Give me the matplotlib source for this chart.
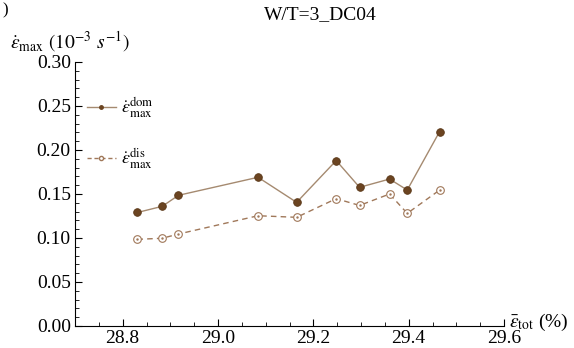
import matplotlib
matplotlib.use("Agg")
import matplotlib.pyplot as plt
from matplotlib.lines import Line2D
from matplotlib.ticker import MultipleLocator

plt.rcParams['font.family'] = ['Liberation Serif', 'DejaVu Serif']
plt.rcParams['mathtext.fontset'] = 'stix'

eps_tot = [28.831, 28.883, 28.917, 29.084, 29.165, 29.248, 29.297, 29.360, 29.397, 29.465]
rate_dom = [0.129, 0.136, 0.1485, 0.169, 0.1405, 0.188, 0.1576, 0.167, 0.1545, 0.221]
rate_dis = [0.0985, 0.0997, 0.1045, 0.1253, 0.1235, 0.1447, 0.137, 0.150, 0.128, 0.1545]
title = "W/T=3_DC04"
x_ticks = [28.8, 29.0, 29.2, 29.4, 29.6]
y_ticks = [0.00, 0.05, 0.10, 0.15, 0.20, 0.25, 0.30]

dom_face = '#6b4421'
dom_line = '#a58a70'
dis_col = '#a0785a'

fig = plt.figure(figsize=(5.74, 3.48), dpi=100)
ax = fig.add_axes([75/574, 1-326/348, (504-75)/574, (326-62)/348])

ax.plot(eps_tot, rate_dom, '-', color=dom_line, lw=1.0, zorder=2)
ax.plot(eps_tot, rate_dom, 'o', ms=5.5, mfc=dom_face, mec='#5a3818', mew=0.6, zorder=3)
ax.plot(eps_tot, rate_dis, '--', color=dis_col, lw=1.0, dashes=(4, 3), zorder=2)
ax.plot(eps_tot, rate_dis, 'o', ms=5.5, mfc='white', mec=dis_col, mew=0.8, zorder=3)
ax.plot(eps_tot, rate_dis, '.', ms=1.5, color=dis_col, zorder=4)

ax.set_xlim(28.7, 29.6)
ax.set_ylim(0, 0.30)
ax.set_xticks(x_ticks)
ax.set_xticklabels([f"{v:.1f}" for v in x_ticks])
ax.set_yticks(y_ticks)
ax.set_yticklabels([f"{v:.2f}" for v in y_ticks])
ax.xaxis.set_minor_locator(MultipleLocator(0.05))
ax.yaxis.set_minor_locator(MultipleLocator(0.01))
ax.tick_params(which='both', direction='in', labelsize=14, pad=3, colors='black')
ax.tick_params(which='major', length=5, width=0.8)
ax.tick_params(which='minor', length=3, width=0.6)
for s in ['top', 'right']:
    ax.spines[s].set_visible(False)
for s in ['left', 'bottom']:
    ax.spines[s].set_linewidth(0.8)

fig.text(320/574, 1-15/348, title, ha='center', va='center', fontsize=14)
fig.text(10/574, 1-42/348, r'$\dot{\epsilon}_{\rm max}$ $(10^{-3}\ s^{-1})$',
         ha='left', va='center', fontsize=14)
fig.text(509/574, 1-322/348, r'$\bar{\epsilon}_{\rm tot}$ (%)', ha='left', va='center', fontsize=14)
fig.text(2/574, 1-2/348, ')', ha='left', va='top', fontsize=12)

handles = [
    Line2D([], [], color=dom_line, lw=1.0, marker='o', ms=2.5, mfc=dom_face, mec=dom_face),
    Line2D([], [], color=dis_col, lw=1.0, ls='--', dashes=(3, 2), marker='o', ms=3,
           mfc='white', mec=dis_col),
]
labels = [r'$\dot{\epsilon}_{\rm max}^{\rm dom}$', r'$\dot{\epsilon}_{\rm max}^{\rm dis}$']
ax.legend(handles, labels, loc='upper left', bbox_to_anchor=(-0.01, 0.935), frameon=False,
          fontsize=13, handlelength=1.6, handletextpad=0.3, labelspacing=1.45)

fig.savefig('out.png', dpi=100)
